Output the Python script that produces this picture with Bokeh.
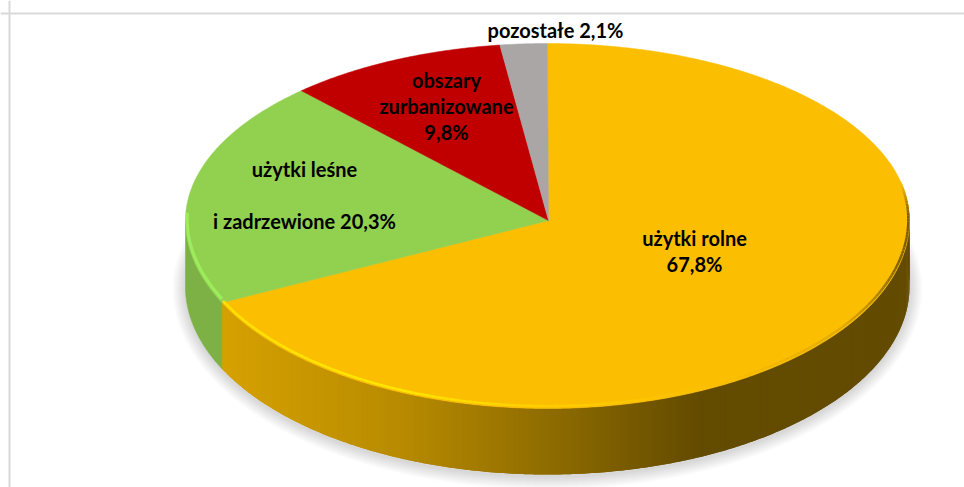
import numpy as np
from bokeh.plotting import figure
from bokeh.models import Range1d, Span
from bokeh.core.properties import value
from bokeh.embed import file_html
from bokeh.resources import INLINE

# data (clockwise from 12 o'clock)
categories = ["użytki rolne", "użytki leśne i zadrzewione", "obszary zurbanizowane", "pozostałe"]
shares = [67.8, 20.3, 9.8, 2.1]
slice_colors = ["#fcbe00", "#92d050", "#c00000", "#aaa6a6"]
label_lines = [["użytki rolne", "67,8%"],
               ["użytki leśne", "", "i zadrzewione 20,3%"],
               ["obszary", "zurbanizowane", "9,8%"],
               ["pozostałe 2,1%"]]

# layout of the projected disc, in page pixels
CX, CY, RX, RY_BACK, RY_FRONT, DEPTH = 547.0, 220.0, 362.0, 177.0, 188.0, 66.0
label_pos = [(694, 250, 26), (304, 194, 26), (446, 105, 26), (555, 29, 26)]


def rim(theta_deg, dy=0.0, grow=0.0):
    t = np.radians(theta_deg)
    c = np.cos(t)
    ry = np.where(c > 0, RY_BACK, RY_FRONT) + grow
    return CX + (RX + grow) * np.sin(t), CY + dy - ry * c


def hexmix(stops, x):
    xs = [s[0] for s in stops]
    rgb = [np.interp(x, xs, [s[1][i] for s in stops]) for i in range(3)]
    return "#%02x%02x%02x" % tuple(int(round(v)) for v in rgb)


p = figure(width=964, height=487, output_backend="svg", toolbar_location=None,
           x_range=Range1d(0, 964), y_range=Range1d(487, 0), min_border=0,
           outline_line_color=None, background_fill_color="white")
p.axis.visible = False
p.grid.visible = False

# chart frame
p.add_layout(Span(location=9, dimension="height", line_color="#d9d9d9", line_width=2))
p.add_layout(Span(location=13, dimension="width", line_color="#d9d9d9", line_width=2))

# slice limits
edges = np.concatenate([[0.0], np.cumsum(shares)]) / sum(shares) * 360.0

# soft shadow
th = np.linspace(0, 360, 361)
for k in range(13, 0, -1):
    x, y = rim(th, dy=DEPTH + 2, grow=k)
    p.patch(x, y, fill_color="#808080", fill_alpha=0.022, line_color=None)

# orange wall, shaded from left to right; each strip runs under the next one
wall_stops = [(222, (214, 161, 0)), (400, (184, 139, 0)), (560, (140, 106, 0)), (700, (99, 75, 0))]
t_edges = np.append(np.arange(84.0, edges[1], 0.5), edges[1])
xs, ys, cols = [], [], []
for i in range(len(t_edges) - 1):
    tt = np.linspace(t_edges[i], t_edges[min(i + 2, len(t_edges) - 1)], 3)
    x0, y0 = rim(tt)
    x1, y1 = rim(tt, dy=DEPTH)
    xs.append(np.concatenate([x0, x1[::-1]]))
    ys.append(np.concatenate([y0, y1[::-1]]))
    cols.append(hexmix(wall_stops, float(rim(np.array([t_edges[i]]))[0][0])))
p.patches(xs, ys, fill_color=cols, line_color=None)

# green wall
tg = np.linspace(edges[1], 270, 40)
x0, y0 = rim(tg)
x1, y1 = rim(tg, dy=DEPTH)
p.patch(np.concatenate([x0, x1[::-1]]), np.concatenate([y0, y1[::-1]]),
        fill_color="#7db146", line_color="#7db146", line_width=0.6)

# top face
for i, c in enumerate(slice_colors):
    tt = np.linspace(edges[i], edges[i + 1], max(8, int(edges[i + 1] - edges[i]) * 2))
    x, y = rim(tt)
    p.patch(np.concatenate([[CX + 1], x]), np.concatenate([[CY], y]),
            fill_color=c, line_color=c, line_width=0.5)

# bevel highlight along the front edge of the disc
rim_stops = [(78, (252, 190, 0)), (88, (120, 90, 0)), (104, (130, 98, 0)), (125, (225, 170, 0)),
             (150, (250, 190, 0)), (178, (255, 205, 0)), (205, (255, 232, 0)),
             (edges[1], (255, 226, 0))]
tb = np.linspace(78, edges[1], 170)
xb, yb = rim(tb, dy=-1.2, grow=-1.2)
seg_x = [[xb[i], xb[i + 1]] for i in range(len(tb) - 1)]
seg_y = [[yb[i], yb[i + 1]] for i in range(len(tb) - 1)]
seg_c = [hexmix(rim_stops, tb[i]) for i in range(len(tb) - 1)]
p.multi_line(seg_x, seg_y, line_color=seg_c, line_width=2.4)

tb = np.linspace(edges[1] + 0.5, 272, 30)
xb, yb = rim(tb, dy=-1.6, grow=-1.6)
p.line(xb, yb, line_color="#9cec5c", line_width=3.2)

# labels
for lines, (lx, ly, step) in zip(label_lines, label_pos):
    n = len(lines)
    ty = [ly + (j - (n - 1) / 2) * step for j in range(n)]
    p.text([lx] * n, ty, text=lines, text_font=value("Lato"), text_font_style="bold",
           text_font_size=value("20px"), text_color="#000000",
           text_align="center", text_baseline="middle")

open("out.html", "w").write(file_html(p, INLINE))
